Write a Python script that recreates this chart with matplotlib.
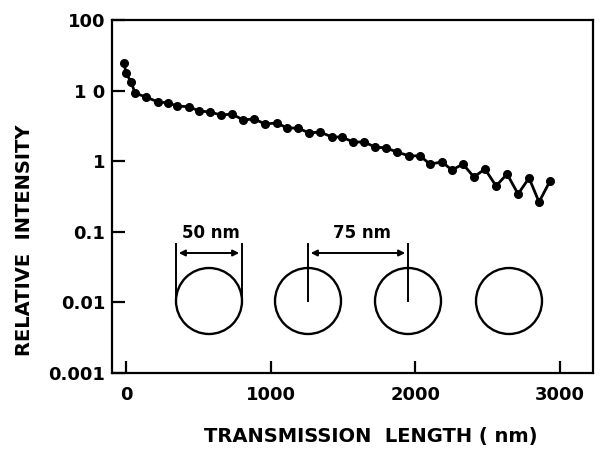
import matplotlib
matplotlib.use("Agg")
import matplotlib.pyplot as plt
from matplotlib.patches import Circle, FancyArrowPatch

length_nm = [-14, 0, 35, 62, 138, 221, 290, 353, 435, 505, 581, 657, 733, 809,
             885, 961, 1044, 1113, 1189, 1265, 1341, 1424, 1493, 1569, 1645,
             1721, 1797, 1873, 1956, 2032, 2101, 2184, 2253, 2329, 2405, 2481,
             2558, 2634, 2710, 2786, 2855, 2931]
intensity = [24.6, 17.7, 13.2, 9.25, 8.1, 6.9, 6.7, 6.05, 5.9, 5.15, 4.98, 4.5,
             4.66, 3.84, 3.96, 3.37, 3.48, 2.95, 2.95, 2.51, 2.59, 2.20, 2.20,
             1.87, 1.87, 1.59, 1.54, 1.35, 1.19, 1.19, 0.91, 0.975, 0.75, 0.91,
             0.597, 0.776, 0.445, 0.659, 0.343, 0.578, 0.264, 0.525]

x_ticks = [0, 1000, 2000, 3000]
y_ticks = [0.001, 0.01, 0.1, 1, 10, 100]
y_tick_labels = ["0.001", "0.01", "0.1", "1", "1 0", "100"]

W, H = 608, 457
fig = plt.figure(figsize=(W / 100, H / 100), dpi=100)
ax = fig.add_axes([112 / W, 1 - 373 / H, (593 - 112) / W, (373 - 20) / H])
ax.set_yscale("log")
ax.plot(length_nm, intensity, color="black", lw=2.0, marker="o", ms=5.5,
        mfc="black", mec="black")
ax.set_xlim(-97, 3228)
ax.set_ylim(0.001, 100)
ax.set_xticks(x_ticks)
ax.set_xticklabels([str(t) for t in x_ticks])
ax.set_yticks(y_ticks)
ax.set_yticklabels(y_tick_labels)
ax.minorticks_off()
ax.tick_params(axis="both", direction="in", length=9, width=1.6,
               labelsize=13, top=False, right=False)
ax.tick_params(axis="x", pad=9)
ax.tick_params(axis="y", pad=5)
for lab in ax.get_xticklabels() + ax.get_yticklabels():
    lab.set_fontweight("bold")
for s in ax.spines.values():
    s.set_linewidth(1.6)
ax.set_xlabel("TRANSMISSION  LENGTH ( nm)", fontsize=14, fontweight="bold")
ax.set_ylabel("RELATIVE  INTENSITY", fontsize=14, fontweight="bold")
ax.xaxis.set_label_coords(0.538, -0.152)
ax.yaxis.set_label_coords(-0.181, 0.377)
ax.yaxis.label.set_va("center")

# Inset schematic in pixel coordinates
ov = fig.add_axes([0, 0, 1, 1])
ov.set_xlim(0, W)
ov.set_ylim(H, 0)
ov.axis("off")
ov.patch.set_alpha(0)
r = 33
centers_x = [209, 308, 408, 509]
cy = 301
for cx in centers_x:
    ov.add_patch(Circle((cx, cy), r, fill=False, lw=1.7, color="black"))
# 50 nm dimension
ov.plot([176, 176], [244, cy], color="black", lw=1.4)
ov.plot([242, 242], [244, cy], color="black", lw=1.4)
ov.add_patch(FancyArrowPatch((176, 253), (242, 253), arrowstyle="<|-|>",
                             mutation_scale=9, lw=1.4, color="black"))
ov.text(211, 233, "50 nm", ha="center", va="center", fontsize=12,
        fontweight="bold")
# 75 nm dimension
ov.plot([308, 308], [244, cy], color="black", lw=1.4)
ov.plot([408, 408], [244, cy], color="black", lw=1.4)
ov.add_patch(FancyArrowPatch((308, 253), (408, 253), arrowstyle="<|-|>",
                             mutation_scale=9, lw=1.4, color="black"))
ov.text(362, 233, "75 nm", ha="center", va="center", fontsize=12,
        fontweight="bold")

fig.savefig("out.png", dpi=100)
